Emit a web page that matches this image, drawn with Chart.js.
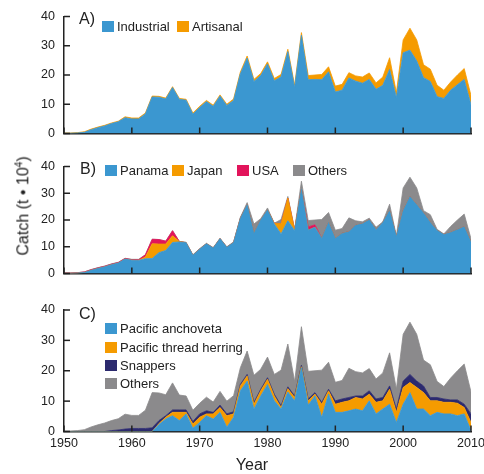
<!DOCTYPE html>
<html>
<head>
<meta charset="utf-8">
<script src="https://cdn.jsdelivr.net/npm/chart.js@4.4.1/dist/chart.umd.min.js"></script>
<style>
  html, body { margin: 0; padding: 0; background: #fff; }
  #wrap { position: relative; width: 484px; height: 474px; overflow: hidden; font-family: 'Liberation Sans', Arial, sans-serif; color: #222; }
  canvas { position: absolute; left: 0; }
  .txt { position: absolute; white-space: nowrap; line-height: 1; }
  .item { position: absolute; height: 14px; display: flex; align-items: center; font-size: 13px; white-space: nowrap; }
  .box { display: inline-block; width: 12px; height: 11px; margin-right: 3px; }
  .panel { font-size: 16px; }
</style>
</head>
<body>
<div id="wrap">
  <canvas id="chart-a" width="490" height="150" style="top:0px"></canvas>
  <canvas id="chart-b" width="490" height="140" style="top:150px"></canvas>
  <canvas id="chart-c" width="490" height="184" style="top:290px"></canvas>

  <div class="txt panel" style="left:79px;top:11px">A)</div>
  <div class="item" style="left:102px;top:19px"><span class="box" style="background:#3b97d0"></span>Industrial</div>
  <div class="item" style="left:177px;top:19px"><span class="box" style="background:#f59b00"></span>Artisanal</div>

  <div class="txt panel" style="left:80px;top:161px">B)</div>
  <div class="item" style="left:105px;top:163px"><span class="box" style="background:#3b97d0"></span>Panama</div>
  <div class="item" style="left:172px;top:163px"><span class="box" style="background:#f59b00"></span>Japan</div>
  <div class="item" style="left:237px;top:163px"><span class="box" style="background:#e2145b"></span>USA</div>
  <div class="item" style="left:293px;top:163px"><span class="box" style="background:#8b8a8c"></span>Others</div>

  <div class="txt panel" style="left:79px;top:306px">C)</div>
  <div class="item" style="left:105px;top:321px"><span class="box" style="background:#3b97d0"></span>Pacific anchoveta</div>
  <div class="item" style="left:105px;top:340px"><span class="box" style="background:#f59b00"></span>Pacific thread herring</div>
  <div class="item" style="left:105px;top:358px"><span class="box" style="background:#2c2a6e"></span>Snappers</div>
  <div class="item" style="left:105px;top:376px"><span class="box" style="background:#8b8a8c"></span>Others</div>

  <div class="txt" style="left:23px;top:206px;font-size:16px;transform:translate(-50%,-50%) rotate(-90deg)">Catch (t • 10<sup style="font-size:10px">4</sup>)</div>
  <div class="txt" style="left:252px;top:465px;font-size:16px;transform:translate(-50%,-50%)">Year</div>
</div>
<script>
const years = [1950,1951,1952,1953,1954,1955,1956,1957,1958,1959,1960,1961,1962,1963,1964,1965,1966,1967,1968,1969,
  1970,1971,1972,1973,1974,1975,1976,1977,1978,1979,1980,1981,1982,1983,1984,1985,1986,1987,1988,1989,
  1990,1991,1992,1993,1994,1995,1996,1997,1998,1999,2000,2001,2002,2003,2004,2005,2006,2007,2008,2009,2010];

const yTicks = [0, 10, 20, 30, 40];
const xTicks = [1950, 1960, 1970, 1980, 1990, 2000, 2010];

// A) sector
const industrial = [0.1,0.1,0.2,0.4,1.3,2.0,2.6,3.4,4.0,5.4,5.0,5.0,6.7,
  12.5,12.4,11.8,15.7,11.7,11.4,6.6,8.9,10.9,9.3,12.8,9.6,11.3,
  20.4,25.8,17.8,19.8,23.8,18.0,19.4,28.0,15.7,33.6,18.4,18.5,18.4,21.1,
  14.2,14.8,19.0,17.9,17.2,18.5,15.1,16.5,21.9,12.3,27.6,28.5,24.8,19.1,17.8,12.6,12.0,14.8,16.7,18.5,9.8];
const artisanal = [0.1,0.1,0.1,0.2,0.2,0.2,0.2,0.2,0.2,0.3,0.3,0.3,0.3,
  0.3,0.3,0.3,0.3,0.3,0.3,0.4,0.4,0.4,0.4,0.4,0.4,0.5,
  0.6,0.7,0.7,0.7,0.7,0.8,0.8,0.8,0.8,0.9,1.4,1.5,1.8,1.7,
  2.0,2.0,1.8,1.8,2.1,2.2,2.2,2.8,4.0,1.7,4.4,7.5,7.2,4.4,4.2,3.9,2.8,2.8,3.3,3.7,3.2];

// B) fleet
const panama = [0.1,0.1,0.2,0.4,1.2,1.9,2.5,3.3,3.9,5.4,5.0,4.9,5.5,
  5.6,7.8,8.6,11.6,11.8,11.5,6.8,9.1,11.1,9.5,13.0,9.8,11.6,
  20.6,25.7,15.0,20.0,23.7,18.5,14.8,19.7,16.0,31.5,16.2,17.3,13.1,19.1,
  13.1,15.0,15.6,18.0,18.6,20.0,16.4,19.1,23.5,13.8,23.5,28.7,25.7,22.6,19.1,16.1,14.6,15.3,16.4,17.5,11.7];
const japan = [0,0,0,0,0,0,0,0,0,0,0,0,0.7,
  5.5,3.2,2.4,2.5,0.2,0,0,0,0,0,0,0,0,
  0,0,0,0,0,0.3,3.8,8.5,0.3,0,0,0,0,0,
  0,0,0,0,0,0,0,0,0,0,0,0,0,0,0,0,0,0,0,0,0];
const usa = [0.1,0.1,0.1,0.2,0.2,0.2,0.2,0.2,0.2,0.2,0.2,0.2,0.8,
  1.7,1.7,1.1,1.9,0,0,0,0,0,0,0,0,0,
  0,0,0,0,0,0,0,0,0,0,1.2,0.9,0,0,
  0,0,0,0,0,0,0,0,0,0,0,0,0,0,0,0,0,0,0,0,0];
const othersB = [0,0,0,0,0.1,0.1,0.1,0.1,0.1,0.1,0.1,0.2,0,
  0,0,0,0,0,0.2,0.2,0.2,0.2,0.2,0.2,0.2,0.2,
  0.4,0.8,3.5,0.5,0.8,0,1.6,0.6,0.2,3.0,2.4,1.8,7.1,3.7,
  3.1,1.8,5.2,1.7,0.7,0.7,0.9,0.2,2.4,0.2,8.5,7.3,6.3,0.9,2.9,0.4,0.2,2.3,3.6,4.7,1.3];

// C) species
const anchoveta = [0,0,0,0,0,0,0,0,0,0,0,0,0,
  0,2.3,4.1,5.2,3.6,5.8,1.1,3.0,5.2,4.1,6.3,1.4,4.7,
  13.4,16.6,7.4,11.7,15.5,10.1,7.4,13.0,10.1,21.0,8.7,11.7,4.7,12.3,
  6.3,6.3,6.8,7.4,6.8,10.1,5.8,7.4,9.0,3.0,9.0,12.8,7.4,7.4,5.2,6.3,5.8,5.8,5.2,5.8,0.3];
const herring = [0,0,0,0,0,0,0,0,0,0,0,0,0,
  0,0.3,0.6,1.1,2.7,0.5,1.4,1.7,0.6,1.7,1.6,3.8,1.1,
  1.6,1.7,1.6,1.7,1.7,1.6,0.5,1.1,1.1,0.3,1.4,0.6,4.3,1.1,
  2.7,3.3,3.3,3.8,3.9,2.2,3.8,2.7,4.9,3.3,5.5,3.3,7.1,5.4,4.9,3.8,3.8,3.8,4.1,2.1,2.7];
const snappers = [0,0,0,0,0,0,0,0.3,0.5,0.8,1.0,1.0,1.0,
  1.2,1.0,0.5,0.8,0.8,0.8,0.8,1.1,1.0,0.5,0.8,0.6,0.7,
  0.5,0.5,0.6,0.5,0.5,0.6,0.6,0.6,0.5,0.5,0.6,0.5,0.6,0.5,
  1.1,1.1,1.1,0.5,1.0,1.1,1.1,1.1,1.1,1.1,2.1,2.7,2.1,2.2,1.1,1.1,1.1,0.8,1.1,1.1,2.8];
const othersC = [0.2,0.2,0.3,0.6,1.5,2.2,2.8,3.3,3.7,4.9,4.3,4.3,6.0,
  11.6,9.1,6.9,8.9,4.9,4.6,3.7,3.5,4.5,3.4,4.5,4.2,5.3,
  5.5,7.7,8.9,6.6,6.8,6.5,11.7,14.1,4.8,12.7,9.1,7.2,10.6,8.9,
  6.1,6.1,9.6,8.0,7.6,7.3,6.6,8.1,10.9,6.6,15.4,17.2,15.4,8.5,10.8,5.3,4.1,7.2,9.6,13.2,7.2];

const BLUE = '#3b97d0', ORANGE = '#f59b00', RED = '#e2145b', GREY = '#8b8a8c', NAVY = '#2c2a6e';
const AXIS = '#222';

// little tick marks pointing into the plot, like the original
const innerTicks = {
  id: 'innerTicks',
  afterDraw(chart) {
    const {ctx, chartArea, scales} = chart;
    ctx.save();
    ctx.strokeStyle = AXIS;
    ctx.lineWidth = 1.5;
    xTicks.forEach(v => {
      const px = scales.x.getPixelForValue(v);
      ctx.beginPath();
      ctx.moveTo(px, chartArea.bottom);
      ctx.lineTo(px, chartArea.bottom - 6);
      ctx.stroke();
    });
    yTicks.forEach(v => {
      const py = scales.y.getPixelForValue(v);
      ctx.beginPath();
      ctx.moveTo(chartArea.left, py);
      ctx.lineTo(chartArea.left + 6, py);
      ctx.stroke();
    });
    ctx.restore();
  }
};

function area(data, color, i) {
  return {
    data: data,
    backgroundColor: color,
    borderColor: color,
    borderWidth: 0.8,
    pointRadius: 0,
    tension: 0,
    fill: i === 0 ? 'origin' : '-1'
  };
}

function panel(id, series, colors, topPad, xHeight, showYears) {
  return new Chart(document.getElementById(id), {
    type: 'line',
    data: {
      labels: years,
      datasets: series.map((s, i) => area(s, colors[i], i))
    },
    options: {
      responsive: false,
      animation: false,
      layout: { padding: { top: topPad, right: 19, left: 0, bottom: 0 } },
      plugins: { legend: { display: false }, tooltip: { enabled: false } },
      scales: {
        x: {
          type: 'linear',
          min: 1950,
          max: 2010,
          grid: { display: false, drawTicks: false },
          border: { display: true, color: AXIS, width: 1.5 },
          afterBuildTicks: s => { s.ticks = xTicks.map(v => ({ value: v })); },
          ticks: {
            display: showYears,
            padding: 5,
            maxRotation: 0,
            autoSkip: false,
            color: '#222',
            font: { family: "'Liberation Sans', Arial", size: 12.5 },
            callback: v => String(v)
          },
          afterFit: s => { s.height = xHeight; }
        },
        y: {
          stacked: true,
          min: 0,
          max: 40,
          grid: { display: false, drawTicks: false },
          border: { display: true, color: AXIS, width: 1.5 },
          afterBuildTicks: s => { s.ticks = yTicks.map(v => ({ value: v })); },
          ticks: {
            padding: 9,
            color: '#222',
            font: { family: "'Liberation Sans', Arial", size: 12.5 }
          },
          afterFit: s => { s.width = 64; }
        }
      }
    },
    plugins: [innerTicks]
  });
}

panel('chart-a', [industrial, artisanal], [BLUE, ORANGE], 15, 14, false);
panel('chart-b', [panama, japan, usa, othersB], [BLUE, ORANGE, RED, GREY], 13.3, 5, false);
panel('chart-c', [anchoveta, herring, snappers, othersC], [BLUE, ORANGE, NAVY, GREY], 20, 42.5, true);
</script>
</body>
</html>
